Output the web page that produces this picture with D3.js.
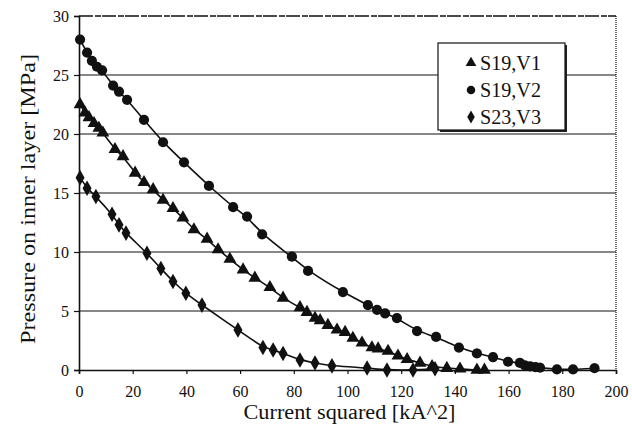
<!DOCTYPE html>
<html>
<head>
<meta charset="utf-8">
<script src="https://cdn.jsdelivr.net/npm/d3@7"></script>
<style>
  html, body { margin: 0; padding: 0; background: #fff; }
  svg { display: block; }
  text { font-family: "Liberation Serif", "Times New Roman", serif; fill: #111; }
</style>
</head>
<body>
<svg id="chart" width="632" height="438"></svg>
<script>
// Measured contact pressure vs. current squared for three coil samples
const xTicks = [0, 20, 40, 60, 80, 100, 120, 140, 160, 180, 200];
const yTicks = [0, 5, 10, 15, 20, 25, 30];
const seriesNames = ["S19,V1", "S19,V2", "S23,V3"];

const s19v1X = [0.4, 2.2, 3.7, 5.6, 7.4, 8.9, 13.4, 16.4, 20.9, 24.2, 27.6, 31.3, 35, 38.7, 42.8, 47.7, 51.8, 56.2, 61.1, 65.5, 71.1, 76, 82.3, 84.9, 87.9, 89.8, 92.7, 96.1, 99.1, 102, 105.4, 109.1, 111.4, 115.1, 118.8, 122.2, 127, 131.5, 137, 141.9, 148.2, 151];
const s19v1Y = [22.5, 21.8, 21.4, 20.9, 20.5, 20.1, 18.7, 18.1, 16.7, 15.9, 15.3, 14.4, 13.7, 12.9, 11.9, 11.1, 10.2, 9.4, 8.5, 7.8, 7.0, 6.1, 5.3, 4.9, 4.4, 4.2, 3.8, 3.4, 3.2, 2.7, 2.3, 1.9, 1.8, 1.6, 1.2, 0.9, 0.6, 0.3, 0.15, 0.1, 0.0, 0.0];

const s19v2X = [0.4, 3.0, 4.8, 6.7, 8.6, 12.7, 14.9, 17.9, 24.2, 31.3, 39.1, 48.4, 57.4, 62.6, 68.2, 79.3, 85.3, 98.3, 107.6, 111, 114, 118.4, 125.9, 133, 141.5, 148.2, 154.2, 159.8, 164.2, 166, 168, 170, 171.7, 178, 184, 192];
const s19v2Y = [28.0, 26.9, 26.2, 25.7, 25.4, 24.1, 23.6, 22.9, 21.2, 19.3, 17.6, 15.6, 13.8, 13.0, 11.5, 9.6, 8.4, 6.6, 5.5, 5.1, 4.8, 4.4, 3.3, 2.8, 1.9, 1.4, 1.1, 0.7, 0.6, 0.4, 0.3, 0.25, 0.2, 0.05, 0.05, 0.15];

const s23v3X = [0.4, 3.0, 6.3, 12.3, 14.9, 17.5, 25.3, 30.5, 35, 39.8, 45.8, 59.2, 68.5, 72.3, 76, 82.3, 87.9, 94.2, 107.3, 114.7, 124.4, 132.6];
const s23v3Y = [16.3, 15.4, 14.7, 13.2, 12.3, 11.6, 9.9, 8.6, 7.5, 6.5, 5.5, 3.4, 1.9, 1.7, 1.4, 0.85, 0.6, 0.35, 0.17, 0.0, 0.0, 0.1];

const series = [
  { name: seriesNames[0], xs: s19v1X, ys: s19v1Y, symbol: d3.symbolTriangle, size: 72 },
  { name: seriesNames[1], xs: s19v2X, ys: s19v2Y, symbol: d3.symbolCircle, size: 82 },
  { name: seriesNames[2], xs: s23v3X, ys: s23v3Y, symbol: d3.symbolDiamond, size: 70 }
];

const svg = d3.select("#chart");
const plotLeft = 79, plotRight = 616, plotTop = 16, plotBottom = 370;

const x = d3.scaleLinear().domain([0, 200]).range([plotLeft, plotRight]);
const y = d3.scaleLinear().domain([0, 30]).range([plotBottom, plotTop]);

// Horizontal gridlines
svg.append("g")
  .selectAll("line")
  .data(yTicks.filter(v => v > 0 && v < 30))
  .join("line")
  .attr("x1", plotLeft).attr("x2", plotRight)
  .attr("y1", d => y(d)).attr("y2", d => y(d))
  .attr("stroke", "#111").attr("stroke-width", 1.2);

// Plot frame: top edge and dotted right edge
svg.append("line")
  .attr("x1", plotLeft).attr("x2", plotRight).attr("y1", y(30)).attr("y2", y(30))
  .attr("stroke", "#111").attr("stroke-width", 1.5).attr("stroke-dasharray", "14,2,6,1");
svg.append("line")
  .attr("x1", plotRight).attr("x2", plotRight).attr("y1", y(30)).attr("y2", plotBottom)
  .attr("stroke", "#222").attr("stroke-width", 1.3).attr("stroke-dasharray", "1,1");

// Axes
const yAxis = d3.axisLeft(y).tickValues(yTicks).tickSize(5).tickPadding(5).tickFormat(d3.format("d"));
const xAxis = d3.axisBottom(x).tickValues(xTicks).tickSize(4).tickPadding(8).tickFormat(d3.format("d"));

const gy = svg.append("g").attr("transform", `translate(${plotLeft},0)`).call(yAxis);
const gx = svg.append("g").attr("transform", `translate(0,${plotBottom})`).call(xAxis);

[gx, gy].forEach(g => {
  g.select(".domain").attr("stroke", "#111").attr("stroke-width", 1.6);
  g.selectAll(".tick line").attr("stroke", "#111").attr("stroke-width", 1.2);
  g.selectAll(".tick text")
    .attr("fill", "#111")
    .style("font-family", '"Liberation Serif", serif')
    .style("font-size", "16px");
});
gy.selectAll(".tick text").attr("dy", "0.36em");
gx.selectAll(".tick text").attr("dy", "0.95em");

// Axis titles
svg.append("text")
  .attr("x", (plotLeft + plotRight) / 2 + 2).attr("y", 419)
  .attr("text-anchor", "middle")
  .attr("textLength", 212).attr("lengthAdjust", "spacingAndGlyphs")
  .style("font-size", "20px")
  .text("Current squared [kA^2]");

svg.append("text")
  .attr("transform", `translate(35,${(plotTop + plotBottom) / 2 + 6}) rotate(-90)`)
  .attr("text-anchor", "middle")
  .attr("textLength", 290).attr("lengthAdjust", "spacingAndGlyphs")
  .style("font-size", "20px")
  .text("Pressure on inner layer [MPa]");

// Smoothed trend lines through each series
const line = d3.line()
  .x(d => x(d[0]))
  .y(d => y(d[1]))
  .curve(d3.curveBasis);

series.forEach(s => {
  const pts = s.xs.map((v, i) => [v, s.ys[i]]);
  svg.append("path")
    .attr("d", line(pts))
    .attr("fill", "none")
    .attr("stroke", "#111")
    .attr("stroke-width", 1.6);
});

// Markers
series.forEach(s => {
  const sym = d3.symbol().type(s.symbol).size(s.size);
  svg.append("g")
    .selectAll("path")
    .data(s.xs.map((v, i) => [v, s.ys[i]]))
    .join("path")
    .attr("transform", d => `translate(${x(d[0])},${y(d[1])})`)
    .attr("d", sym)
    .attr("fill", "#111");
});

// Legend box with drop shadow
const lg = svg.append("g").attr("transform", "translate(438,43)");
lg.append("rect").attr("x", 2).attr("y", 2).attr("width", 127).attr("height", 87).attr("fill", "#222");
lg.append("rect").attr("x", 0).attr("y", 0).attr("width", 127).attr("height", 87)
  .attr("fill", "#fff").attr("stroke", "#111").attr("stroke-width", 1.2);

series.forEach((s, i) => {
  const cy = 20 + i * 27;
  lg.append("path")
    .attr("transform", `translate(33,${cy})`)
    .attr("d", d3.symbol().type(s.symbol).size(s.size * 0.7)())
    .attr("fill", "#111");
  lg.append("text")
    .attr("x", 42).attr("y", cy + 7)
    .attr("textLength", 61).attr("lengthAdjust", "spacingAndGlyphs")
    .style("font-size", "20px")
    .text(s.name);
});
</script>
</body>
</html>
